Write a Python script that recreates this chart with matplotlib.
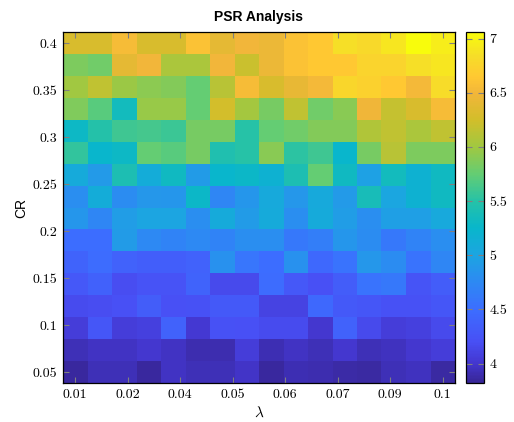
"""
PSR heatmap over lambda and CR
"""
import numpy as np
import matplotlib
matplotlib.use('Agg')
import matplotlib.pyplot as plt
from matplotlib.colors import LinearSegmentedColormap

# data
lam = [0.01, 0.016, 0.022, 0.028, 0.034, 0.04, 0.046, 0.052,
       0.058, 0.064, 0.07, 0.076, 0.082, 0.088, 0.094, 0.1]
cr = [0.05, 0.0733, 0.0967, 0.12, 0.1433, 0.1667, 0.19, 0.2133,
      0.2367, 0.26, 0.2833, 0.3067, 0.33, 0.3533, 0.3767, 0.4]

# rows from CR=0.05 (bottom) up to CR=0.4 (top)
psr = [
    [3.85, 3.93, 3.93, 3.85, 3.97, 3.93, 3.93, 3.98, 3.85, 3.92, 3.90, 3.88, 3.86, 3.93, 3.95, 3.86],
    [3.93, 3.97, 3.97, 4.00, 3.97, 3.90, 3.90, 4.05, 3.92, 3.97, 3.93, 4.00, 3.93, 3.95, 4.00, 4.05],
    [4.05, 4.27, 4.05, 4.08, 4.38, 4.02, 4.22, 4.20, 4.17, 4.17, 4.00, 4.38, 4.15, 4.05, 4.08, 4.15],
    [4.17, 4.18, 4.20, 4.33, 4.20, 4.22, 4.30, 4.30, 4.10, 4.10, 4.45, 4.30, 4.27, 4.22, 4.22, 4.27],
    [4.28, 4.37, 4.18, 4.23, 4.23, 4.40, 4.15, 4.15, 4.48, 4.28, 4.20, 4.33, 4.55, 4.60, 4.25, 4.33],
    [4.40, 4.48, 4.38, 4.35, 4.35, 4.38, 4.82, 4.57, 4.50, 4.83, 4.45, 4.55, 4.88, 4.77, 4.55, 4.72],
    [4.50, 4.50, 4.92, 4.75, 4.70, 4.75, 4.70, 4.80, 4.80, 4.60, 4.65, 4.87, 4.77, 4.60, 4.70, 4.80],
    [4.87, 4.72, 4.93, 5.00, 5.00, 4.80, 5.08, 4.92, 5.08, 4.80, 5.08, 4.93, 4.80, 4.95, 4.95, 5.05],
    [4.80, 5.10, 4.77, 4.88, 4.87, 5.28, 4.73, 4.87, 5.07, 4.88, 5.07, 4.90, 5.38, 5.02, 5.18, 5.32],
    [5.08, 4.90, 5.42, 5.10, 5.32, 4.92, 5.25, 5.28, 5.18, 5.42, 5.75, 5.32, 4.97, 5.35, 5.18, 5.32],
    [5.55, 5.25, 5.30, 5.75, 5.70, 5.82, 5.45, 5.50, 5.90, 5.52, 5.60, 5.25, 5.82, 6.12, 5.85, 5.85],
    [5.30, 5.48, 5.60, 5.62, 5.58, 5.82, 5.82, 5.50, 5.75, 5.80, 5.88, 5.88, 6.08, 6.15, 6.05, 6.15],
    [5.87, 5.70, 5.35, 5.97, 5.97, 5.75, 6.25, 6.02, 5.82, 6.15, 5.80, 5.90, 6.48, 6.18, 6.30, 6.55],
    [6.00, 6.15, 5.98, 5.92, 5.88, 5.75, 6.12, 6.55, 6.30, 6.42, 6.52, 6.78, 6.72, 6.65, 6.52, 6.82],
    [5.85, 5.80, 6.40, 6.50, 6.05, 6.05, 6.50, 6.20, 6.45, 6.60, 6.65, 6.65, 6.75, 6.75, 6.85, 6.90],
    [6.30, 6.30, 6.55, 6.30, 6.30, 6.60, 6.40, 6.50, 6.45, 6.60, 6.65, 6.85, 6.80, 6.90, 7.05, 6.95],
]

vmin, vmax = 3.82, 7.06

# parula-like map, anchors in data units
anchors = [
    (3.82, (55, 38, 150)), (4.00, (68, 55, 208)), (4.20, (72, 80, 245)),
    (4.50, (60, 110, 255)), (4.75, (45, 137, 243)), (5.00, (28, 165, 225)),
    (5.25, (8, 182, 203)), (5.50, (38, 194, 167)), (5.75, (100, 205, 115)),
    (6.00, (160, 200, 65)), (6.25, (210, 190, 42)), (6.50, (242, 182, 58)),
    (6.65, (255, 200, 50)), (6.85, (246, 222, 40)), (7.06, (248, 252, 12)),
]
cmap = LinearSegmentedColormap.from_list(
    'parula_like',
    [((v - vmin) / (vmax - vmin), tuple(c / 255 for c in rgb)) for v, rgb in anchors])

plt.rcParams['mathtext.fontset'] = 'cm'

fig = plt.figure(figsize=(5.14, 4.22), dpi=100)
ax = fig.add_axes([63 / 514, 39 / 422, 392 / 514, 351 / 422])
cax = fig.add_axes([466 / 514, 39 / 422, 18 / 514, 351 / 422])

mesh = ax.pcolormesh(lam, cr, np.array(psr), cmap=cmap, vmin=vmin, vmax=vmax, shading='nearest')

xt = np.linspace(lam[0], lam[-1], 8)
ax.set_xticks(xt)
ax.set_xticklabels(['%g' % round(v, 2) for v in xt], fontfamily='cmr10', fontsize=10)
yt = [0.05, 0.1, 0.15, 0.2, 0.25, 0.3, 0.35, 0.4]
ax.set_yticks(yt)
ax.set_yticklabels(['%g' % v for v in yt], fontfamily='cmr10', fontsize=10)
ax.tick_params(direction='in', top=True, right=True, color='gray', length=4, width=0.8, pad=4)
for s in ax.spines.values():
    s.set_color('black')
    s.set_linewidth(0.9)

ax.set_title('PSR Analysis', fontfamily='Liberation Sans', fontweight='bold', fontsize=10, pad=8)
ax.set_ylabel('CR', fontfamily='Liberation Sans', fontsize=10, labelpad=3)
ax.set_xlabel(r'$\lambda$', fontsize=11, labelpad=3)

cb = fig.colorbar(mesh, cax=cax)
cbt = [4, 4.5, 5, 5.5, 6, 6.5, 7]
cb.set_ticks(cbt)
cb.set_ticklabels(['%g' % v for v in cbt])
for t in cax.get_yticklabels():
    t.set_fontfamily('cmr10')
    t.set_fontsize(10)
cax.tick_params(direction='in', left=True, right=True, color='gray', length=4, width=0.8, pad=4)
cb.outline.set_edgecolor('black')
cb.outline.set_linewidth(0.9)

fig.savefig('out.png', dpi=100)
